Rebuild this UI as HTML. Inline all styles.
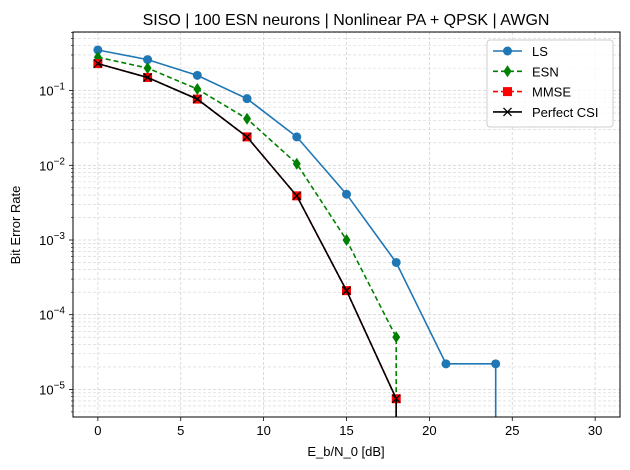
<!DOCTYPE html>
<html><head><meta charset="utf-8"><style>
html,body{margin:0;padding:0;background:#fff;width:630px;height:470px;overflow:hidden}
svg text{font-family:"Liberation Sans","DejaVu Sans",sans-serif;fill:#000}
</style></head><body>
<svg id="chart" width="630" height="470" xmlns="http://www.w3.org/2000/svg">
<g id="grid"></g>
<g id="series"></g>
<g id="axes"></g>
<text x="346" y="25" font-size="16" text-anchor="middle">SISO | 100 ESN neurons | Nonlinear PA + QPSK | AWGN</text>
<text x="346" y="456" font-size="13" text-anchor="middle">E_b/N_0 [dB]</text>
<text x="20" y="225" font-size="13" text-anchor="middle" transform="rotate(-90 20 225)">Bit Error Rate</text>
<g id="legend"></g>
</svg>
<script>
const snr = [0,3,6,9,12,15,18,21,24,27,30];
const lsBer = [0.35,0.26,0.16,0.078,0.024,0.0041,0.0005,2.2e-5,2.2e-5,0,0];
const esnBer = [0.28,0.2,0.105,0.042,0.0105,0.001,5e-5,0,0,0,0];
const mmseBer = [0.23,0.15,0.077,0.024,0.0039,0.00021,7.5e-6,0,0,0,0];
const perfectBer = [0.23,0.15,0.077,0.024,0.0039,0.00021,7.5e-6,0,0,0,0];
const xTicks = [0,5,10,15,20,25,30];
const yDecades = [-1,-2,-3,-4,-5];

const L=73,R=620,T=32,B=417;
const xMin=-1.5,xMax=31.5;
const yTopLog=Math.log10(0.609),yBotLog=Math.log10(4.27e-6);
const NS="http://www.w3.org/2000/svg";
function X(v){return L+(v-xMin)/(xMax-xMin)*(R-L);}
function Y(v){return T+(yTopLog-Math.log10(v))/(yTopLog-yBotLog)*(B-T);}
function mk(tag,attrs,parent){const e=document.createElementNS(NS,tag);for(const k in attrs)e.setAttribute(k,attrs[k]);parent.appendChild(e);return e;}
const grid=document.getElementById('grid'),axes=document.getElementById('axes'),ser=document.getElementById('series'),leg=document.getElementById('legend');

xTicks.forEach(t=>{const x=X(t);
 const g=mk('line',{x1:x,x2:x,y1:T,y2:B,stroke:'#d3d3d3','stroke-width':0.8,'stroke-dasharray':'3,2'},grid);
 
 mk('line',{x1:x,x2:x,y1:B,y2:B+4,stroke:'#000','stroke-width':0.8},axes);
 const tx=mk('text',{x:x,y:B+18,'font-size':13,'text-anchor':'middle'},axes);tx.textContent=t;
 
});
for(let d=-6;d<=0;d++){for(let m=1;m<10;m++){const v=m*Math.pow(10,d);const y=Y(v);if(y<T-0.1||y>B+0.1)continue;
 const g=mk('line',{x1:L,x2:R,y1:y,y2:y,stroke:'#d3d3d3','stroke-width':m==1?0.8:0.6,'stroke-dasharray':'3,2'},grid);
 
 mk('line',{x1:L-(m==1?4:2),x2:L,y1:y,y2:y,stroke:'#000','stroke-width':m==1?0.8:0.6},axes);
}}
yDecades.forEach(d=>{const y=Y(Math.pow(10,d));
 const tx=mk('text',{x:L-8,y:y+5,'font-size':13,'text-anchor':'end'},axes);
 
 tx.innerHTML='10<tspan dy="-6" font-size="10">\u2212'+(-d)+'</tspan>';
});
const frame=mk('rect',{x:L,y:T,width:R-L,height:B-T,fill:'none',stroke:'#000','stroke-width':1},axes);


function pathFor(vals){let d='',last=null;
 for(let i=0;i<snr.length;i++){const v=vals[i];
  if(v>0){const p=[X(snr[i]),Y(v)];d+=(d?'L':'M')+p[0].toFixed(1)+','+p[1].toFixed(1);last=i;}
  else{ if(last!==null&&last===i-1){d+='L'+X(snr[last]).toFixed(1)+','+(B+5);} }
 }return d;}
function marker(type,x,y,color,g){
 if(type=='o')return mk('circle',{cx:x,cy:y,r:4.5,fill:color},g);
 if(type=='d')return mk('path',{d:`M${x},${y-6}L${x+4},${y}L${x},${y+6}L${x-4},${y}Z`,fill:color},g);
 if(type=='s')return mk('rect',{x:x-4.5,y:y-4.5,width:9,height:9,fill:color},g);
 if(type=='x')return mk('path',{d:`M${x-4},${y-4}L${x+4},${y+4}M${x-4},${y+4}L${x+4},${y-4}`,stroke:color,'stroke-width':1.3},g);
}
const clip=mk('clipPath',{id:'pc'},ser);mk('rect',{x:L,y:T,width:R-L,height:B-T},clip);
const series=[
 {name:'LS',vals:lsBer,color:'#1f77b4',dash:'',m:'o'},
 {name:'ESN',vals:esnBer,color:'#008000',dash:'5,3',m:'d'},
 {name:'MMSE',vals:mmseBer,color:'#ff0000',dash:'5,3',m:'s'},
 {name:'Perfect CSI',vals:perfectBer,color:'#000000',dash:'',m:'x'}];
series.forEach((s,k)=>{const g=mk('g',{'clip-path':'url(#pc)'},ser);
 
 const p=mk('path',{d:pathFor(s.vals),fill:'none',stroke:s.color,'stroke-width':1.6,'stroke-dasharray':s.dash},g);
 
 s.vals.forEach((v,i)=>{if(v>0){const m=marker(s.m,X(snr[i]),Y(v),s.color,g);
  }});
 const ly=51+k*20.3;
 const le=mk('g',{},leg);
 mk('line',{x1:493,x2:522,y1:ly,y2:ly,stroke:s.color,'stroke-width':1.6,'stroke-dasharray':s.dash},le);
 marker(s.m,507.5,ly,s.color,le);
 const t=mk('text',{x:532,y:ly+5,'font-size':13},le);t.textContent=s.name;
});
const lb=mk('rect',{x:487,y:40,width:126,height:87,rx:3,fill:'rgba(255,255,255,0.8)',stroke:'#ccc','stroke-width':1},leg);
leg.insertBefore(lb,leg.firstChild);
</script>
</body></html>
